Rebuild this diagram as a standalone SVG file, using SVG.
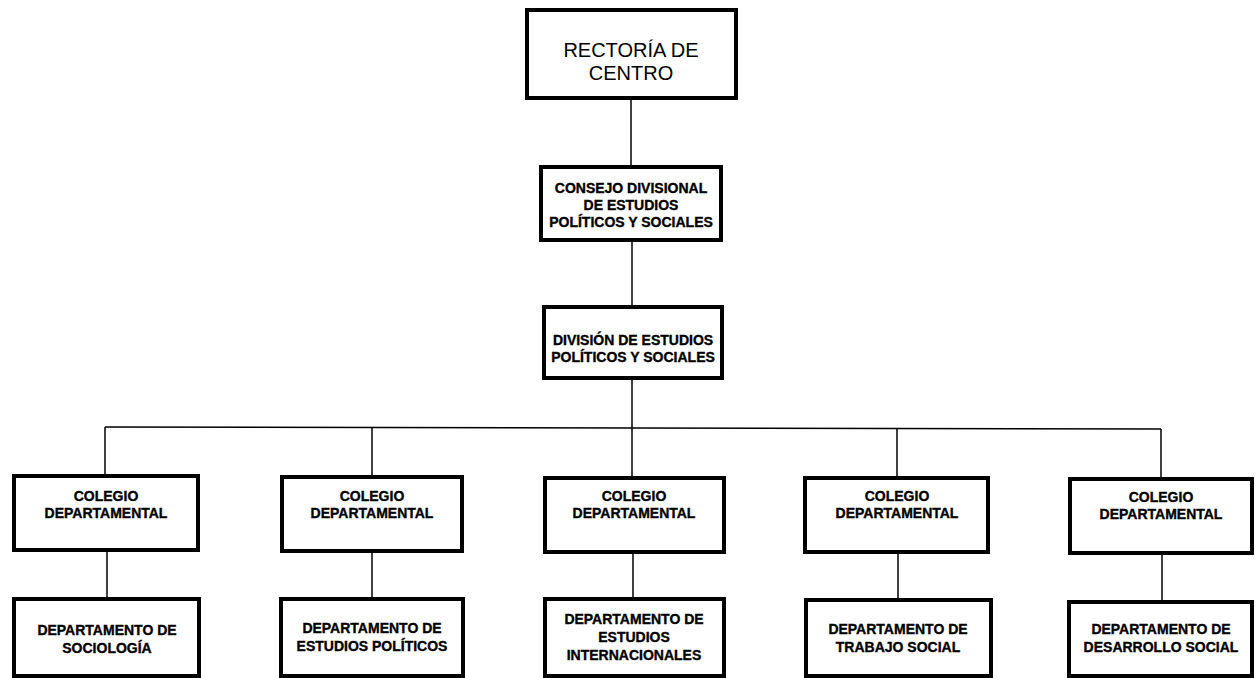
<svg xmlns="http://www.w3.org/2000/svg" width="1257" height="678" viewBox="0 0 1257 678">
<style>
.box{fill:#fff;stroke:#000;stroke-width:4}
.ln{stroke:#000;stroke-width:1.5;fill:none}
.t{font-family:"Liberation Sans",Arial,sans-serif;font-weight:bold;font-size:14px;text-anchor:middle;fill:#000;stroke:#000;stroke-width:0.35}
.big{font-family:"Liberation Sans",Arial,sans-serif;font-size:20px;text-anchor:middle;fill:#000}
</style>
<rect width="1257" height="678" fill="#fff"/>
<g id="connectors">
<line class="ln" x1="631" y1="100" x2="631" y2="165"/>
<line class="ln" x1="632" y1="242" x2="632" y2="305"/>
<line class="ln" x1="632" y1="380" x2="632" y2="428"/>
<line class="ln" x1="105" y1="427" x2="1161" y2="429"/>
<line class="ln" x1="105" y1="427" x2="105" y2="474"/>
<line class="ln" x1="372" y1="428" x2="372" y2="475"/>
<line class="ln" x1="632" y1="428" x2="632" y2="476"/>
<line class="ln" x1="897" y1="429" x2="897" y2="476"/>
<line class="ln" x1="1161" y1="429" x2="1161" y2="477"/>
<line class="ln" x1="107" y1="552" x2="107" y2="597"/>
<line class="ln" x1="372" y1="552" x2="372" y2="597"/>
<line class="ln" x1="633" y1="554" x2="633" y2="597"/>
<line class="ln" x1="898" y1="554" x2="898" y2="598"/>
<line class="ln" x1="1162" y1="555" x2="1162" y2="600"/>
</g>
<g id="rectoria">
<rect class="box" x="527" y="10" width="209" height="88"/>
<text class="big" x="631" y="57">RECTORÍA DE</text>
<text class="big" x="631" y="80">CENTRO</text>
</g>
<g id="consejo">
<rect class="box" x="541" y="167" width="180" height="73"/>
<text class="t" x="631" y="193">CONSEJO DIVISIONAL</text>
<text class="t" x="631" y="210">DE ESTUDIOS</text>
<text class="t" x="631" y="227">POLÍTICOS  Y SOCIALES</text>
</g>
<g id="division">
<rect class="box" x="544" y="307" width="178" height="71"/>
<text class="t" x="633" y="345">DIVISIÓN DE ESTUDIOS</text>
<text class="t" x="633" y="362">POLÍTICOS Y SOCIALES</text>
</g>
<g id="colegio1">
<rect class="box" x="14" y="476" width="184" height="74"/>
<text class="t" x="106" y="501">COLEGIO</text>
<text class="t" x="106" y="518">DEPARTAMENTAL</text>
</g>
<g id="colegio2">
<rect class="box" x="282" y="477" width="180" height="74"/>
<text class="t" x="372" y="501">COLEGIO</text>
<text class="t" x="372" y="518">DEPARTAMENTAL</text>
</g>
<g id="colegio3">
<rect class="box" x="545" y="478" width="179" height="74"/>
<text class="t" x="634" y="501">COLEGIO</text>
<text class="t" x="634" y="518">DEPARTAMENTAL</text>
</g>
<g id="colegio4">
<rect class="box" x="805" y="478" width="183" height="74"/>
<text class="t" x="897" y="501">COLEGIO</text>
<text class="t" x="897" y="518">DEPARTAMENTAL</text>
</g>
<g id="colegio5">
<rect class="box" x="1070" y="479" width="182" height="74"/>
<text class="t" x="1161" y="502">COLEGIO</text>
<text class="t" x="1161" y="519">DEPARTAMENTAL</text>
</g>
<g id="depto1">
<rect class="box" x="14" y="599" width="185" height="77"/>
<text class="t" x="107" y="635">DEPARTAMENTO DE</text>
<text class="t" x="107" y="653">SOCIOLOGÍA</text>
</g>
<g id="depto2">
<rect class="box" x="281" y="599" width="182" height="77"/>
<text class="t" x="372" y="633">DEPARTAMENTO DE</text>
<text class="t" x="372" y="651">ESTUDIOS POLÍTICOS</text>
</g>
<g id="depto3">
<rect class="box" x="545" y="599" width="179" height="77"/>
<text class="t" x="634" y="624">DEPARTAMENTO DE</text>
<text class="t" x="634" y="642">ESTUDIOS</text>
<text class="t" x="634" y="660">INTERNACIONALES</text>
</g>
<g id="depto4">
<rect class="box" x="806" y="600" width="185" height="76"/>
<text class="t" x="898" y="634">DEPARTAMENTO DE</text>
<text class="t" x="898" y="652">TRABAJO SOCIAL</text>
</g>
<g id="depto5">
<rect class="box" x="1069" y="602" width="183" height="74"/>
<text class="t" x="1161" y="634">DEPARTAMENTO DE</text>
<text class="t" x="1161" y="652">DESARROLLO SOCIAL</text>
</g>
</svg>
